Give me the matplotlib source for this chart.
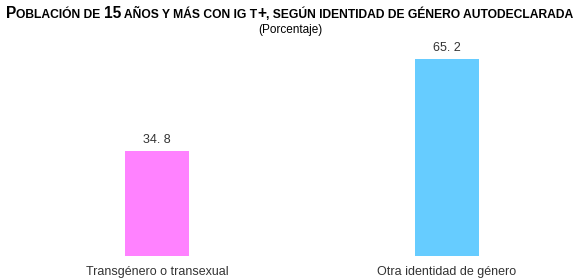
import matplotlib
matplotlib.use('Agg')
import matplotlib.pyplot as plt

categories = ['Transgénero o transexual', 'Otra identidad de género']
values = [34.8, 65.2]
value_labels = ['34. 8', '65. 2']
colors = ['#FF82FF', '#66CCFF']

# title pieces: (text, fontsize) -- imitates small caps
title_parts = [('P', 11.2), ('OBLACIÓN DE ', 8.75), ('15', 11.2), (' AÑOS Y MÁS CON IG T', 8.75),
               ('+', 11.2), (', SEGÚN IDENTIDAD DE GÉNERO AUTODECLARADA', 8.75)]
subtitle = '(Porcentaje)'

plt.rcParams['font.family'] = ['Liberation Sans', 'DejaVu Sans']

fig = plt.figure(figsize=(5.8, 2.79), dpi=100)
ax = fig.add_axes([0, 0, 1, 1])

x = list(range(len(categories)))
ax.bar(x, values, width=0.22, color=colors)
for xi, v, lab in zip(x, values, value_labels):
    ax.text(xi, v + 1.8, lab, ha='center', va='bottom', fontsize=9, color='#333333')

for xi, cat in zip(x, categories):
    ax.text(xi, -3.2, cat, ha='center', va='top', fontsize=9, color='#333333')

ax.set_xlim(-0.5414, 1.4586)
ax.set_ylim(-7.6, 84.8)
ax.axis('off')

# draw title pieces one after another, then center the whole line
renderer = fig.canvas.get_renderer()
texts = []
widths = []
for s, fs in title_parts:
    t = fig.text(0, 0, s, fontsize=fs, fontweight='bold', color='black', va='baseline', ha='left')
    texts.append(t)
    widths.append(t.get_window_extent(renderer).width)
total = sum(widths)
start = (580 - total) / 2
base_y = 1 - 18 / 279
pos = start
for t, w in zip(texts, widths):
    t.set_position((pos / 580, base_y))
    pos += w

fig.text(0.5, 1 - 30 / 279, subtitle, ha='center', va='center', fontsize=8.5, color='black')

fig.savefig('out.png', dpi=100)
